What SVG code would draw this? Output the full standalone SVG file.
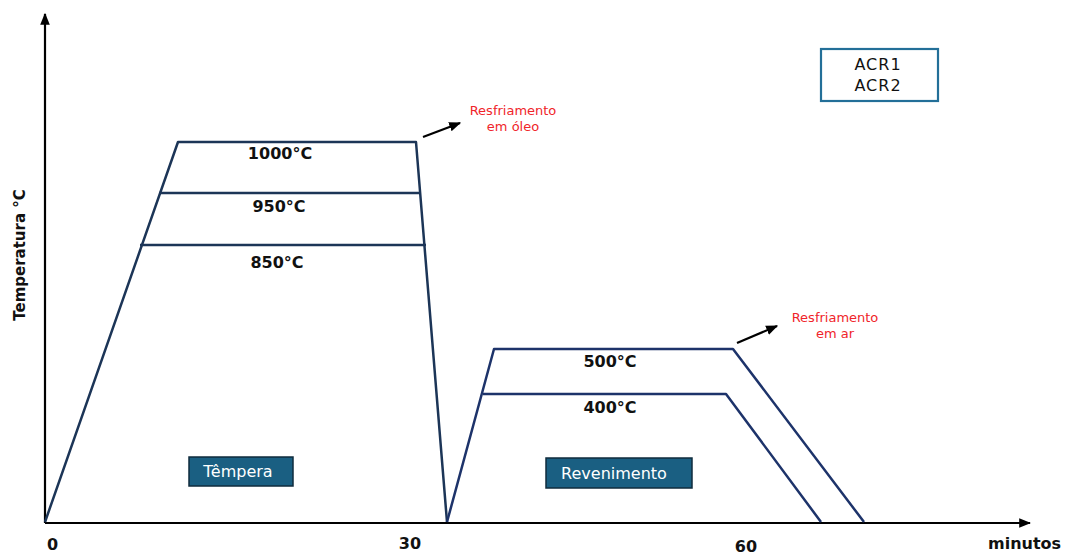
<svg xmlns="http://www.w3.org/2000/svg" width="1070" height="554" viewBox="0 0 1070 554">
<defs>
<marker id="ah2" viewBox="0 0 10 10" refX="9" refY="5" markerWidth="12" markerHeight="12" orient="auto" markerUnits="userSpaceOnUse">
<path d="M0,1 L10,5 L0,9 z" fill="#000"/>
</marker>
<style>
.axis{stroke:#000;stroke-width:2.2;fill:none}
.curve{stroke:#1c3557;stroke-width:2.5;fill:none;stroke-linejoin:round}
.curve2{stroke:#1d336a;stroke-width:2.5;fill:none;stroke-linejoin:round}
.temp{font-family:"DejaVu Sans",sans-serif;font-weight:bold;font-size:16px;fill:#111;text-anchor:middle}
.red{font-family:"DejaVu Sans",sans-serif;font-size:13px;fill:#f0242a;text-anchor:middle}
.tag{fill:#1a5f82;stroke:#0f2b3d;stroke-width:1.5}
.tagt{font-family:"DejaVu Sans",sans-serif;font-size:16px;fill:#fff;text-anchor:middle}
.tick{font-family:"DejaVu Sans",sans-serif;font-weight:bold;font-size:16px;fill:#111}
.ylab{font-family:"DejaVu Sans",sans-serif;font-weight:bold;font-size:15px;fill:#111;text-anchor:middle}
</style>
</defs>
<rect width="1070" height="554" fill="#fff"/>

<g id="connectors">
<line class="axis" x1="45" y1="523" x2="45" y2="14" marker-end="url(#ah2)"/>
<line class="axis" x1="45" y1="523" x2="1030" y2="523" marker-end="url(#ah2)"/>
<path class="curve" d="M45,522 L178,142 L416,142 L447,522"/>
<line class="curve" x1="159" y1="193" x2="419" y2="193"/>
<line class="curve" x1="140" y1="245" x2="426" y2="245"/>
<path class="curve2" d="M447,522 L494,349 L733,349 L864,522"/>
<path class="curve2" d="M483,394 L726,394 L821,522"/>
<line x1="423" y1="137" x2="460" y2="123" stroke="#000" stroke-width="2.2" marker-end="url(#ah2)"/>
<line x1="737" y1="343" x2="777" y2="326" stroke="#000" stroke-width="2.2" marker-end="url(#ah2)"/>
</g>

<g id="ylabel">
<text class="ylab" transform="translate(25,255) rotate(-90)">Temperatura °C</text>
</g>

<g id="labels-tempera">
<text class="temp" x="280" y="159">1000°C</text>
<text class="temp" x="279" y="212">950°C</text>
<text class="temp" x="277" y="268">850°C</text>
</g>

<g id="labels-revenimento">
<text class="temp" x="610" y="367">500°C</text>
<text class="temp" x="610" y="413">400°C</text>
</g>

<g id="note-oleo">
<text class="red" x="513" y="115">Resfriamento</text>
<text class="red" x="513" y="131">em óleo</text>
</g>

<g id="note-ar">
<text class="red" x="835" y="322">Resfriamento</text>
<text class="red" x="835" y="338">em ar</text>
</g>

<g id="legend">
<rect x="821" y="49" width="117" height="52" fill="#fff" stroke="#236f98" stroke-width="2.2"/>
<text x="878" y="70" font-family="DejaVu Sans, sans-serif" font-size="16" fill="#111" text-anchor="middle" letter-spacing="1">ACR1</text>
<text x="878" y="91" font-family="DejaVu Sans, sans-serif" font-size="16" fill="#111" text-anchor="middle" letter-spacing="1">ACR2</text>
</g>

<g id="tempera">
<rect class="tag" x="189" y="457" width="104" height="29"/>
<text class="tagt" x="238" y="477">Têmpera</text>
</g>

<g id="revenimento">
<rect class="tag" x="546" y="458" width="146" height="30"/>
<text class="tagt" x="614" y="479">Revenimento</text>
</g>

<g id="ticks">
<text class="tick" x="47" y="550">0</text>
<text class="tick" x="410" y="549" text-anchor="middle">30</text>
<text class="tick" x="746" y="552" text-anchor="middle">60</text>
<text class="tick" x="988" y="549">minutos</text>
</g>
</svg>
